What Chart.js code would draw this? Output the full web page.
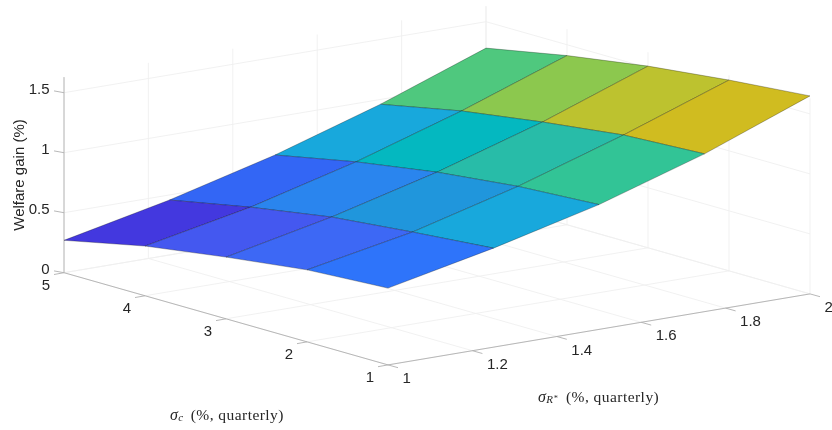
<!DOCTYPE html>
<html>
<head>
<meta charset="utf-8">
<title>Welfare gain surface</title>
<script src="https://cdn.jsdelivr.net/npm/chart.js@4"></script>
<style>
  html, body { margin: 0; padding: 0; background: #fff; }
  #box { width: 832px; height: 430px; overflow: hidden; }
</style>
</head>
<body>
<div id="box"><canvas id="surface-chart" width="832" height="430"></canvas></div>
<script>
// Grid of the surface
const sigmaC = [1, 2, 3, 4, 5];
const sigmaR = [1, 1.25, 1.5, 1.75, 2];

// Welfare gain (%), one row per sigmaC, one column per sigmaR
const welfareC1 = [0.64, 0.825, 1.04, 1.315, 1.65];
const welfareC2 = [0.60, 0.767, 1.00, 1.28, 1.59];
const welfareC3 = [0.514, 0.70, 0.926, 1.196, 1.514];
const welfareC4 = [0.414, 0.59, 0.82, 1.096, 1.41];
const welfareC5 = [0.27, 0.458, 0.685, 0.96, 1.28];
const welfareGain = [welfareC1, welfareC2, welfareC3, welfareC4, welfareC5];

// Tick labels
const ticksC = [1, 2, 3, 4, 5];
const ticksR = [1, 1.2, 1.4, 1.6, 1.8, 2];
const ticksZ = [0, 0.5, 1, 1.5];
const labelsC = ['1', '2', '3', '4', '5'];
const labelsR = ['1', '1.2', '1.4', '1.6', '1.8', '2'];
const labelsZ = ['0', '0.5', '1', '1.5'];
const zTop = 1.63;

// Face colours as MATLAB shaded them, [sigmaC strip][sigmaR strip]
const faceColors = [
  ['#2E74FA', '#18A8DC', '#32C496', '#D0BC20'],
  ['#3D68F5', '#2096DC', '#28BCA8', '#BDC22F'],
  ['#4458F0', '#2A85EE', '#04B8C0', '#8CC84E'],
  ['#4338DF', '#3366F5', '#18A8DC', '#4FC87E']
];

const GRID = '#efefef';
const AXIS = '#b0b0b0';
const TEXT = '#262626';
const EDGE = 'rgba(0, 0, 0, 0.5)';

// Orthographic view of the MATLAB axes box
function project(c, r, z) {
  return {
    x: 64 + (5 - c) * 81 + (r - 1) * 422,
    y: 272.7 + (5 - c) * 23.05 - (r - 1) * 71 - z * 120
  };
}

function shift(p, dx, dy) {
  return { x: p.x + dx, y: p.y + dy };
}

function lineDataset(points, color, width) {
  return {
    data: points,
    showLine: true,
    borderColor: color,
    borderWidth: width,
    pointRadius: 0,
    tension: 0,
    fill: false
  };
}

function buildDatasets() {
  const faces = [];
  const lines = [];
  const axes = [];

  // Surface faces, drawn on top of everything else (first dataset is drawn last)
  for (let i = 0; i < sigmaC.length - 1; i++) {
    for (let j = 0; j < sigmaR.length - 1; j++) {
      const corners = [
        project(sigmaC[i], sigmaR[j], welfareGain[i][j]),
        project(sigmaC[i + 1], sigmaR[j], welfareGain[i + 1][j]),
        project(sigmaC[i + 1], sigmaR[j + 1], welfareGain[i + 1][j + 1]),
        project(sigmaC[i], sigmaR[j + 1], welfareGain[i][j + 1])
      ];
      corners.push(corners[0]);
      const face = lineDataset(corners, EDGE, 0.55);
      face.fill = 'shape';
      face.backgroundColor = faceColors[i][j];
      faces.push(face);
    }
  }

  const cMin = ticksC[0];
  const cMax = ticksC[ticksC.length - 1];
  const rMin = ticksR[0];
  const rMax = ticksR[ticksR.length - 1];

  // Axis rulers and tick marks
  axes.push(lineDataset([project(cMax, rMin, 0), project(cMax, rMin, zTop)], AXIS, 0.9));
  axes.push(lineDataset([project(cMax, rMin, 0), project(cMin, rMin, 0)], AXIS, 0.9));
  axes.push(lineDataset([project(cMin, rMin, 0), project(cMin, rMax, 0)], AXIS, 0.9));
  ticksZ.forEach(z => {
    const p = project(cMax, rMin, z);
    axes.push(lineDataset([p, shift(p, -10, -1.8)], AXIS, 0.9));
  });
  ticksC.forEach(c => {
    const p = project(c, rMin, 0);
    axes.push(lineDataset([p, shift(p, -10, 1.8)], AXIS, 0.9));
  });
  ticksR.forEach(r => {
    const p = project(cMin, r, 0);
    axes.push(lineDataset([p, shift(p, 10, 2.8)], AXIS, 0.9));
  });

  // Floor and back wall grid
  ticksC.forEach(c => {
    lines.push(lineDataset([project(c, rMin, 0), project(c, rMax, 0)], GRID, 0.9));
    lines.push(lineDataset([project(c, rMax, 0), project(c, rMax, zTop)], GRID, 0.9));
  });
  ticksR.forEach(r => {
    lines.push(lineDataset([project(cMin, r, 0), project(cMax, r, 0)], GRID, 0.9));
    lines.push(lineDataset([project(cMax, r, 0), project(cMax, r, zTop)], GRID, 0.9));
  });
  ticksZ.forEach(z => {
    lines.push(lineDataset([project(cMax, rMin, z), project(cMax, rMax, z), project(cMin, rMax, z)], GRID, 0.9));
  });

  return faces.concat(axes, lines);
}

// Draws a row of text pieces from left to right
function drawPieces(ctx, pieces, x, y) {
  let cursor = x;
  pieces.forEach(piece => {
    ctx.font = piece.font;
    ctx.fillText(piece.text, cursor, y + (piece.dy || 0));
    cursor += ctx.measureText(piece.text).width + (piece.gap || 0);
  });
}

// The box is not a cartesian frame, so labels are placed from the same projection
const boxLabels = {
  id: 'boxLabels',
  afterDraw(chart) {
    const ctx = chart.ctx;
    const sx = chart.scales.x;
    const sy = chart.scales.y;
    const at = p => ({ x: sx.getPixelForValue(p.x), y: sy.getPixelForValue(p.y) });

    ctx.save();
    ctx.fillStyle = TEXT;
    ctx.font = '15px "Liberation Sans", Arial, sans-serif';
    ctx.textBaseline = 'middle';

    ctx.textAlign = 'right';
    ticksZ.forEach((z, i) => {
      const p = at(project(5, 1, z));
      ctx.fillText(labelsZ[i], p.x - 14.5, p.y - 2.5);
    });
    ticksC.forEach((c, i) => {
      const p = at(project(c, 1, 0));
      ctx.fillText(labelsC[i], p.x - 14, p.y + 13);
    });

    ctx.textAlign = 'left';
    ticksR.forEach((r, i) => {
      const p = at(project(1, r, 0));
      ctx.fillText(labelsR[i], p.x + 14.5, p.y + 14);
    });

    // z axis title
    ctx.save();
    ctx.translate(19.5, 175);
    ctx.rotate(-Math.PI / 2);
    ctx.textAlign = 'center';
    ctx.fillText('Welfare gain (%)', 0, 0);
    ctx.restore();

    // Computer Modern is not installed, serif pieces stand in for the LaTeX labels
    const serif = '15.5px "Liberation Serif", serif';
    const serifIt = 'italic 16px "Liberation Serif", serif';
    const subIt = 'italic 11px "Liberation Serif", serif';
    const supIt = 'italic 8px "Liberation Serif", serif';
    ctx.textAlign = 'left';
    ctx.letterSpacing = '0.45px';
    drawPieces(ctx, [
      { text: '\u03c3', font: serifIt },
      { text: 'c', font: subIt, dy: 3, gap: 7 },
      { text: '(%, quarterly)', font: serif }
    ], 170, 415.5);
    drawPieces(ctx, [
      { text: '\u03c3', font: serifIt },
      { text: 'R', font: subIt, dy: 3 },
      { text: '*', font: supIt, dy: 1, gap: 8 },
      { text: '(%, quarterly)', font: serif }
    ], 538, 397.5);
    ctx.restore();
  }
};

const chart = new Chart(document.getElementById('surface-chart'), {
  type: 'scatter',
  data: { datasets: buildDatasets() },
  options: {
    responsive: false,
    animation: false,
    layout: { padding: 0 },
    plugins: { legend: { display: false }, tooltip: { enabled: false } },
    scales: {
      x: { type: 'linear', display: false, min: 0, max: 832 },
      y: { type: 'linear', display: false, min: 0, max: 430, reverse: true }
    }
  },
  plugins: [boxLabels]
});
</script>
</body>
</html>
